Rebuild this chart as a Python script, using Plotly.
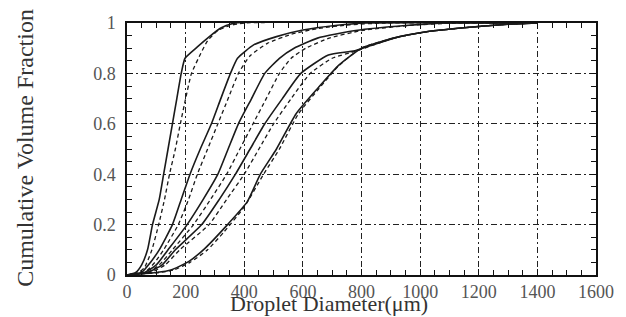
import plotly.graph_objects as go

# ---- data (droplet diameter in um, cumulative volume fraction) ----
a_solid_x = [0, 30, 50, 70, 87, 110, 125, 140, 155, 170, 185, 198, 240, 280, 320, 370, 1400]
a_solid_y = [0, 0.01, 0.04, 0.1, 0.2, 0.3, 0.4, 0.5, 0.6, 0.7, 0.8, 0.86, 0.905, 0.945, 0.98, 1.0, 1.0]
a_dash_x = [0, 40, 60, 85, 108, 128, 145, 165, 182, 200, 220, 252, 275, 310, 350, 400, 1400]
a_dash_y = [0, 0.01, 0.03, 0.1, 0.2, 0.3, 0.4, 0.5, 0.6, 0.7, 0.8, 0.88, 0.93, 0.97, 0.99, 1.0, 1.0]

b_solid_x = [0, 50, 80, 110, 155, 185, 215, 250, 288, 320, 353, 377, 432, 510, 600, 710, 820, 1400]
b_solid_y = [0, 0.01, 0.05, 0.1, 0.2, 0.3, 0.4, 0.5, 0.6, 0.7, 0.8, 0.86, 0.913, 0.946, 0.972, 0.99, 1.0, 1.0]
b_dash_x = [0, 60, 95, 125, 175, 210, 240, 275, 310, 345, 380, 420, 480, 560, 650, 760, 880, 1400]
b_dash_y = [0, 0.01, 0.05, 0.1, 0.2, 0.3, 0.4, 0.5, 0.6, 0.7, 0.8, 0.87, 0.92, 0.955, 0.978, 0.993, 1.0, 1.0]

c_solid_x = [0, 60, 100, 140, 205, 260, 310, 345, 380, 425, 470, 520, 570, 650, 780, 950, 1100, 1400]
c_solid_y = [0, 0.01, 0.04, 0.1, 0.2, 0.3, 0.4, 0.5, 0.6, 0.7, 0.8, 0.86, 0.9, 0.94, 0.97, 0.99, 1.0, 1.0]
c_dash_x = [0, 70, 110, 155, 227, 285, 340, 385, 430, 475, 520, 560, 610, 690, 800, 960, 1120, 1400]
c_dash_y = [0, 0.01, 0.04, 0.1, 0.2, 0.3, 0.4, 0.5, 0.6, 0.7, 0.8, 0.86, 0.9, 0.94, 0.97, 0.99, 1.0, 1.0]

d_solid_x = [0, 70, 120, 165, 255, 315, 370, 420, 470, 530, 593, 687, 777, 910, 1021, 1188, 1300, 1400]
d_solid_y = [0, 0.01, 0.04, 0.1, 0.2, 0.3, 0.4, 0.5, 0.6, 0.7, 0.8, 0.873, 0.89, 0.94, 0.965, 0.985, 0.995, 1.0]
d_dash_x = [0, 80, 130, 180, 280, 340, 400, 450, 500, 560, 625, 700, 785, 910, 1021, 1188, 1300, 1400]
d_dash_y = [0, 0.01, 0.04, 0.1, 0.2, 0.3, 0.4, 0.5, 0.6, 0.7, 0.8, 0.86, 0.89, 0.94, 0.965, 0.985, 0.995, 1.0]

e_solid_x = [0, 100, 150, 210, 266, 343, 410, 455, 510, 577, 650, 720, 800, 910, 1021, 1188, 1300, 1400]
e_solid_y = [0, 0.01, 0.02, 0.053, 0.106, 0.2, 0.29, 0.4, 0.5, 0.64, 0.74, 0.83, 0.9, 0.94, 0.965, 0.985, 0.995, 1.0]
e_dash_x = [0, 110, 160, 215, 275, 330, 400, 466, 520, 585, 655, 722, 798, 910, 1021, 1188, 1300, 1400]
e_dash_y = [0, 0.01, 0.02, 0.05, 0.1, 0.17, 0.27, 0.4, 0.5, 0.64, 0.74, 0.83, 0.9, 0.94, 0.965, 0.985, 0.995, 1.0]

x_tick_vals = [0, 200, 400, 600, 800, 1000, 1200, 1400, 1600]
x_tick_text = ["0", "200", "400", "600", "800", "1000", "1200", "1400", "1600"]
y_tick_vals = [0, 0.2, 0.4, 0.6, 0.8, 1.0]
y_tick_text = ["0", "0.2", "0.4", "0.6", "0.8", "1"]

x_title = "Droplet Diameter(μm)"
y_title = "Cumulative Volume Fraction"

series = [
    (a_solid_x, a_solid_y, "solid"), (a_dash_x, a_dash_y, "dash"),
    (b_solid_x, b_solid_y, "solid"), (b_dash_x, b_dash_y, "dash"),
    (c_solid_x, c_solid_y, "solid"), (c_dash_x, c_dash_y, "dash"),
    (d_solid_x, d_solid_y, "solid"), (d_dash_x, d_dash_y, "dash"),
    (e_solid_x, e_solid_y, "solid"), (e_dash_x, e_dash_y, "dash"),
]

fig = go.Figure()
for xs, ys, style in series:
    fig.add_trace(go.Scatter(
        x=xs, y=ys, mode="lines",
        line=dict(color="#1a1a1a", width=1.6 if style == "solid" else 1.3,
                  dash="solid" if style == "solid" else "4px,3px",
                  shape="spline", smoothing=0.5),
        showlegend=False, hoverinfo="skip"))

font_family = "Liberation Serif"
axis_common = dict(
    showline=True, linecolor="#111", linewidth=1.5, mirror="allticks",
    ticks="inside", ticklen=6, tickcolor="#111", tickwidth=1,
    showgrid=True, gridcolor="#222", gridwidth=1, griddash="6px,3px,2px,3px",
    zeroline=False,
    tickfont=dict(family=font_family, size=18, color="#555"),
)

fig.update_xaxes(
    range=[0, 1600], tickvals=x_tick_vals, ticktext=x_tick_text,
    minor=dict(dtick=50, ticks="inside", ticklen=5, tickcolor="#111", showgrid=False),
    ticklabelstandoff=0,
    **axis_common)
fig.update_yaxes(
    range=[0, 1], tickvals=y_tick_vals, ticktext=y_tick_text,
    minor=dict(dtick=0.05, ticks="inside", ticklen=5, tickcolor="#111", showgrid=False),
    ticklabelstandoff=6,
    **axis_common)

fig.add_annotation(text=x_title, xref="paper", yref="paper", x=0.431, y=0,
                   yshift=-28, xanchor="center", yanchor="middle", showarrow=False,
                   font=dict(family=font_family, size=22, color="#333"))
fig.add_annotation(text=y_title, xref="paper", yref="paper", x=-0.2167, y=0.506,
                   textangle=-90, xanchor="center", yanchor="middle", showarrow=False,
                   font=dict(family=font_family, size=24, color="#333"))

fig.update_layout(
    width=626, height=317,
    margin=dict(l=127, r=19, t=23, b=42),
    paper_bgcolor="white", plot_bgcolor="white",
    font=dict(family=font_family),
)

fig.write_html(
    "out.html",
    config={"displayModeBar": False},
    post_script="document.body.style.margin='0';document.body.style.overflow='hidden';",
)
